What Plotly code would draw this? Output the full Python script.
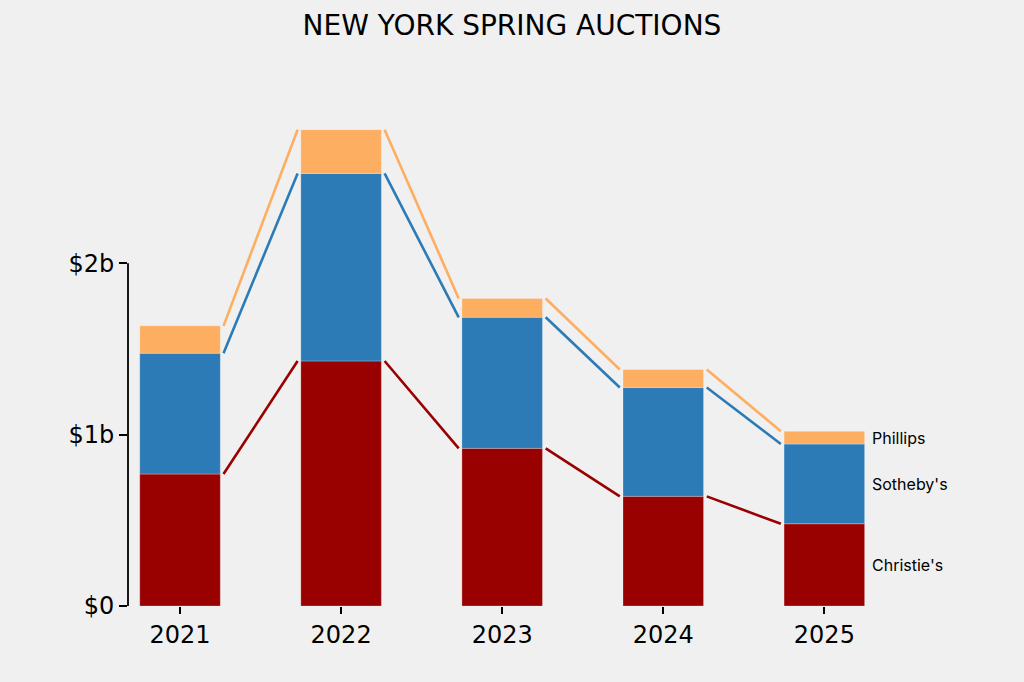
import plotly.graph_objects as go
import numpy as np

years = ["2021", "2022", "2023", "2024", "2025"]
houses = ["Christie's", "Sotheby's", "Phillips"]
christies = [0.77, 1.43, 0.92, 0.64, 0.48]
sothebys = [0.705, 1.095, 0.765, 0.635, 0.465]
phillips = [0.16, 0.255, 0.11, 0.105, 0.075]
colors = ["#990000", "#2c7bb6", "#fdae61"]
ytick_vals = [0, 1, 2]
ytick_text = ["$0", "$1b", "$2b"]

series = [christies, sothebys, phillips]
x = list(range(len(years)))
bw = 0.5
gap = 0.02

fig = go.Figure()
base = np.zeros(len(years))
tops = []
for name, vals, col in zip(houses, series, colors):
    fig.add_trace(go.Bar(x=x, y=vals, base=base.copy(), name=name, width=bw,
                         marker=dict(color=col, line=dict(color="rgba(255,255,255,0.5)", width=0.5)),
                         showlegend=False))
    base = base + np.array(vals)
    tops.append(base.copy())

for name, top, col in zip(houses, tops, colors):
    for i in range(len(years) - 1):
        fig.add_trace(go.Scatter(x=[x[i] + bw / 2 + gap, x[i + 1] - bw / 2 - gap],
                                 y=[top[i], top[i + 1]], mode="lines",
                                 line=dict(color=col, width=2.6), showlegend=False,
                                 hoverinfo="skip"))

# labels at right of last bar, centred on segments
prev = 0.0
for name, top in zip(houses, tops):
    mid = (prev + top[-1]) / 2
    fig.add_annotation(x=x[-1] + bw / 2 + 0.035, y=mid, text=name, showarrow=False,
                       xanchor="left", yanchor="middle",
                       font=dict(family="Inter", size=16, color="black"))
    prev = top[-1]

# y spine from 0 to last tick
fig.add_shape(type="line", xref="paper", yref="y", x0=0, x1=0,
              y0=ytick_vals[0], y1=ytick_vals[-1], line=dict(color="black", width=1.8))

fig.update_layout(
    width=1024, height=682,
    paper_bgcolor="#f0f0f0", plot_bgcolor="#f0f0f0",
    margin=dict(l=128, r=103, t=92, b=76),
    barmode="overlay",
    title=dict(text="NEW YORK SPRING AUCTIONS", x=0.5, xanchor="center",
               y=1 - 25 / 682, yanchor="middle",
               font=dict(family="DejaVu Sans", size=28, color="black")),
    font=dict(family="DejaVu Sans", color="black"),
    xaxis=dict(range=[-0.323, 4.6], tickvals=x, ticktext=years, showgrid=False,
               zeroline=False, showline=False, ticks="outside", ticklen=7,
               tickwidth=1.5, tickcolor="black", tickfont=dict(size=24)),
    yaxis=dict(range=[0, 3.0], tickvals=ytick_vals, ticktext=ytick_text,
               showgrid=False, zeroline=False, showline=False, ticks="outside",
               ticklen=8, tickwidth=1.8, tickcolor="black", tickfont=dict(size=24)),
)

fig.write_html("out.html", config={"displayModeBar": False},
               post_script="document.body.style.margin='0';document.body.style.background='#f0f0f0';")
